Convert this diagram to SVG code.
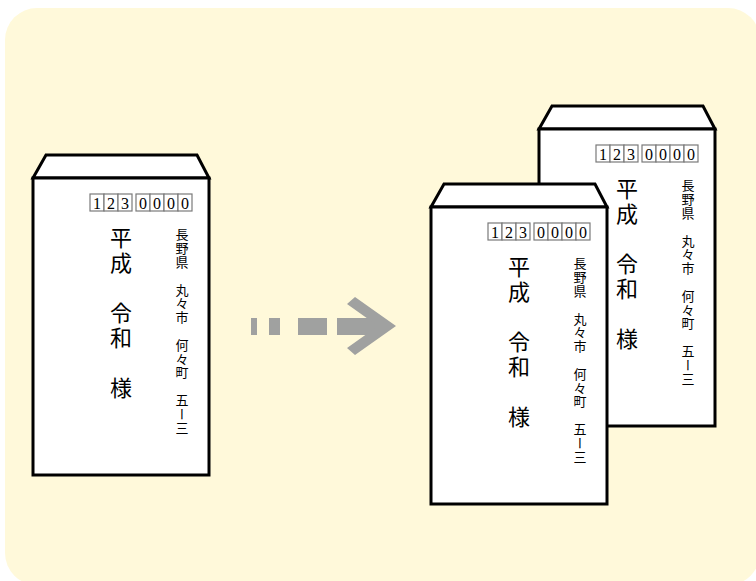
<svg xmlns="http://www.w3.org/2000/svg" width="756" height="581" viewBox="0 0 756 581">
<style>
.env{fill:#ffffff;stroke:#000000;stroke-width:3;stroke-linejoin:miter}
.box{fill:#ffffff;stroke:#7a7a7a;stroke-width:1.2}
.dig{font-family:"Liberation Serif",serif;font-size:16px;fill:#000000;text-anchor:middle}
.name{font-family:"Noto Sans CJK JP","Noto Sans CJK SC",sans-serif;font-size:22px;fill:#000000;writing-mode:vertical-rl;letter-spacing:3px}
.addr{font-family:"Noto Sans CJK JP","Noto Sans CJK SC",sans-serif;font-size:13px;fill:#000000;writing-mode:vertical-rl;letter-spacing:0.8px}
.arrow{fill:#a0a1a0}
</style>
<rect x="5" y="8" width="755" height="577" rx="32" ry="32" fill="#fff9da"/>

<g id="envelope-back" transform="translate(506,-49)">
<polygon class="env" points="33,178 46,155 197,155 209,178"/>
<rect class="env" x="33" y="178" width="176" height="297"/>
<rect class="box" x="90" y="194" width="14" height="17"/><text class="dig" x="97" y="209">1</text>
<rect class="box" x="104" y="194" width="14" height="17"/><text class="dig" x="111" y="209">2</text>
<rect class="box" x="118" y="194" width="14" height="17"/><text class="dig" x="125" y="209">3</text>
<rect class="box" x="136" y="194" width="14" height="17"/><text class="dig" x="143" y="209">0</text>
<rect class="box" x="150" y="194" width="14" height="17"/><text class="dig" x="157" y="209">0</text>
<rect class="box" x="164" y="194" width="14" height="17"/><text class="dig" x="171" y="209">0</text>
<rect class="box" x="178" y="194" width="14" height="17"/><text class="dig" x="185" y="209">0</text>
<text class="name" x="121" y="227">平成　令和　様</text>
<text class="addr" x="182" y="228">長野県　丸々市　何々町　五ー三</text>
</g>

<g id="envelope-left">
<polygon class="env" points="33,178 46,155 197,155 209,178"/>
<rect class="env" x="33" y="178" width="176" height="297"/>
<rect class="box" x="90" y="194" width="14" height="17"/><text class="dig" x="97" y="209">1</text>
<rect class="box" x="104" y="194" width="14" height="17"/><text class="dig" x="111" y="209">2</text>
<rect class="box" x="118" y="194" width="14" height="17"/><text class="dig" x="125" y="209">3</text>
<rect class="box" x="136" y="194" width="14" height="17"/><text class="dig" x="143" y="209">0</text>
<rect class="box" x="150" y="194" width="14" height="17"/><text class="dig" x="157" y="209">0</text>
<rect class="box" x="164" y="194" width="14" height="17"/><text class="dig" x="171" y="209">0</text>
<rect class="box" x="178" y="194" width="14" height="17"/><text class="dig" x="185" y="209">0</text>
<text class="name" x="121" y="227">平成　令和　様</text>
<text class="addr" x="182" y="228">長野県　丸々市　何々町　五ー三</text>
</g>

<g id="envelope-front" transform="translate(398,29)">
<polygon class="env" points="33,178 46,155 197,155 209,178"/>
<rect class="env" x="33" y="178" width="176" height="297"/>
<rect class="box" x="90" y="194" width="14" height="17"/><text class="dig" x="97" y="209">1</text>
<rect class="box" x="104" y="194" width="14" height="17"/><text class="dig" x="111" y="209">2</text>
<rect class="box" x="118" y="194" width="14" height="17"/><text class="dig" x="125" y="209">3</text>
<rect class="box" x="136" y="194" width="14" height="17"/><text class="dig" x="143" y="209">0</text>
<rect class="box" x="150" y="194" width="14" height="17"/><text class="dig" x="157" y="209">0</text>
<rect class="box" x="164" y="194" width="14" height="17"/><text class="dig" x="171" y="209">0</text>
<rect class="box" x="178" y="194" width="14" height="17"/><text class="dig" x="185" y="209">0</text>
<text class="name" x="121" y="227">平成　令和　様</text>
<text class="addr" x="182" y="228">長野県　丸々市　何々町　五ー三</text>
</g>

<g id="connectors">
<g id="arrow">
<rect class="arrow" x="251" y="318" width="6" height="17"/>
<rect class="arrow" x="269" y="318" width="11" height="17"/>
<rect class="arrow" x="298" y="318" width="29" height="17"/>
<rect class="arrow" x="337" y="318" width="42" height="17"/>
<polygon class="arrow" points="347,304 355,297 396,326 355,355 347,348 378,326"/>
</g>
</g>
</svg>
